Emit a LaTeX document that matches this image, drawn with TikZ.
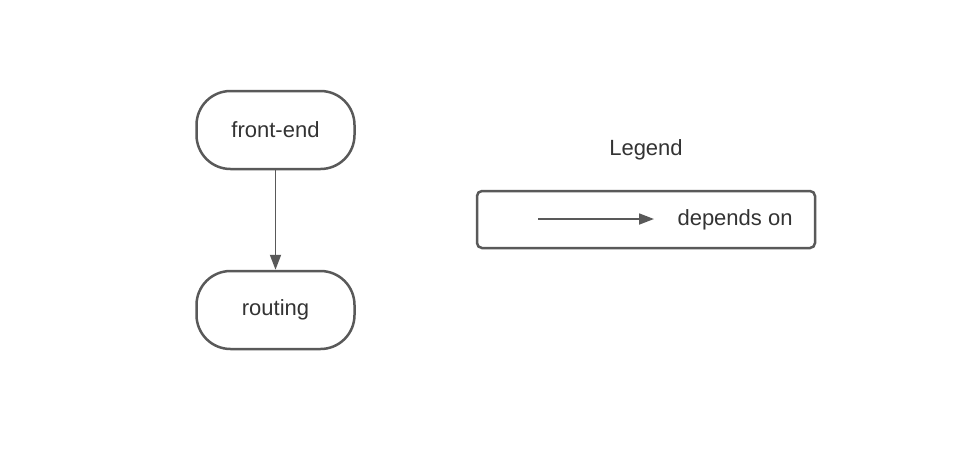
\documentclass[tikz,border=0pt]{standalone}
\usepackage{fontspec}
\setmainfont{Liberation Sans}
\usetikzlibrary{arrows.meta}
\definecolor{linegray}{RGB}{89,89,89}
\definecolor{textgray}{RGB}{51,51,51}
\tikzset{
  service/.style={draw=linegray, line width=2.5pt, rounded corners=34pt,
    minimum width=158pt, minimum height=78pt, text=textgray,
    font=\fontsize{22}{26}\selectfont},
  legendbox/.style={draw=linegray, line width=2.5pt, rounded corners=5pt,
    minimum width=338pt, minimum height=57pt},
  label/.style={text=textgray, font=\fontsize{22}{26}\selectfont},
  dep/.style={draw=linegray, line width=1.8pt, -{Triangle[length=15pt,width=11pt]}}
}
\begin{document}
\begin{tikzpicture}[x=1pt,y=-1pt]
\useasboundingbox (0,0) rectangle (970,459);
\node[service] (frontend) at (275.5,130) {front-end};
\node[service] (routing) at (275.5,310) {routing};
\draw[dep] (frontend) -- (routing);
% legend
\node[label] (legendtitle) at (646,150) {Legend};
\node[legendbox] (legend) at (646,219.5) {};
\coordinate (depstart) at (538,219);
\coordinate (depend) at (654,219);
\draw[dep] (depstart) -- (depend);
\node[label, anchor=west] (deplabel) at (674,220) {depends on};
\end{tikzpicture}
\end{document}
